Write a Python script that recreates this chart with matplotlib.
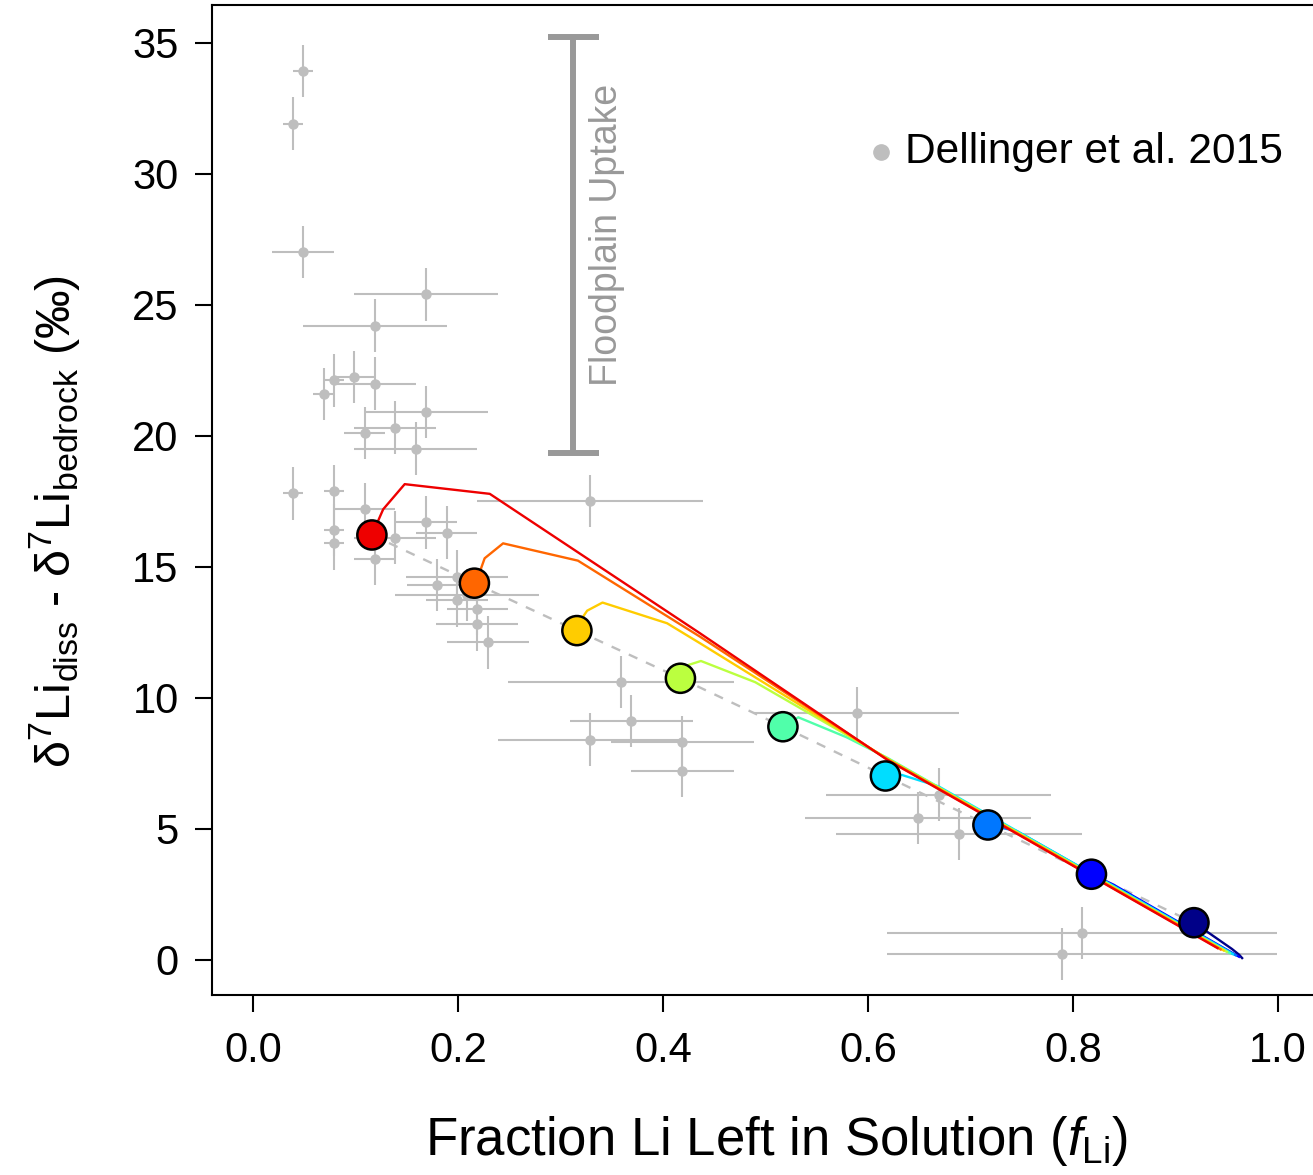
import numpy as np
import matplotlib
matplotlib.use("Agg")
import matplotlib.pyplot as plt

plt.rcParams['font.family'] = ['Liberation Sans', 'DejaVu Sans']
plt.rcParams['mathtext.fontset'] = 'custom'
plt.rcParams['mathtext.rm'] = 'Liberation Sans'
plt.rcParams['mathtext.it'] = 'Liberation Sans:italic'
plt.rcParams['mathtext.default'] = 'regular'

# Dellinger et al. 2015 observations
obs_f = [0.049, 0.039, 0.049, 0.169, 0.119, 0.099, 0.079, 0.119, 0.069, 0.169,
         0.139, 0.109, 0.159, 0.039, 0.079, 0.109, 0.169, 0.189, 0.139, 0.079,
         0.079, 0.119, 0.329, 0.180, 0.199, 0.199, 0.209, 0.219, 0.219, 0.229,
         0.359, 0.369, 0.329, 0.419, 0.419, 0.589, 0.669, 0.649, 0.689, 0.809,
         0.789]
obs_d7 = [33.92, 31.92, 27.02, 25.40, 24.21, 22.26, 22.12, 22.00, 21.61, 20.92,
          20.32, 20.11, 19.52, 17.81, 17.91, 17.21, 16.70, 16.31, 16.12, 16.41,
          15.90, 15.32, 17.51, 14.31, 14.63, 13.72, 13.93, 13.40, 12.81, 12.12,
          10.61, 9.11, 8.41, 8.31, 7.20, 9.41, 6.31, 5.41, 4.81, 1.02,
          0.22]
obs_ferr_lo = [0.01, 0.01, 0.03, 0.07, 0.07, 0.02, 0.01, 0.04, 0.01, 0.06,
               0.04, 0.02, 0.06, 0.01, 0.01, 0.03, 0.03, 0.03, 0.04, 0.01,
               0.01, 0.02, 0.11, 0.03, 0.05, 0.03, 0.07, 0.03, 0.04, 0.04,
               0.11, 0.06, 0.09, 0.07, 0.05, 0.10, 0.11, 0.11, 0.12, 0.19,
               0.17]
obs_ferr_hi = obs_ferr_lo[:-1] + [0.21]
obs_d7err = [1.0] * len(obs_f)

# model start points (one per colour) and their trajectories
start_f = [0.116, 0.216, 0.316, 0.417, 0.517, 0.617, 0.717, 0.818, 0.918]
start_d7 = [16.22, 14.38, 12.57, 10.75, 8.90, 7.02, 5.15, 3.27, 1.42]
colors = ['#EE0000', '#FF6600', '#FFCC00', '#BBFF3F', '#50FFAA',
          '#00DDFF', '#0077FF', '#0000FF', '#000088']

red_x = [0.116, 0.127, 0.148, 0.231, 0.436, 0.619, 0.941]
red_y = [16.22, 17.20, 18.16, 17.79, 12.47, 7.63, 0.45]
orange_x = [0.216, 0.222, 0.226, 0.244, 0.317, 0.436, 0.619, 0.944]
orange_y = [14.38, 14.89, 15.33, 15.90, 15.24, 12.34, 7.65, 0.40]
gold_x = [0.316, 0.322, 0.326, 0.341, 0.404, 0.436, 0.619, 0.947]
gold_y = [12.57, 13.10, 13.33, 13.64, 12.85, 12.09, 7.67, 0.36]
yg_x = [0.417, 0.425, 0.437, 0.490, 0.619, 0.950]
yg_y = [10.75, 11.26, 11.41, 10.60, 7.69, 0.31]
aq_x = [0.517, 0.532, 0.579, 0.619, 0.953]
aq_y = [8.90, 9.26, 8.50, 7.71, 0.26]
cyan_x = [0.617, 0.633, 0.669, 0.956]
cyan_y = [7.02, 7.06, 6.62, 0.22]
dodger_x = [0.717, 0.745, 0.959]
dodger_y = [5.15, 4.92, 0.17]
blue_x = [0.818, 0.840, 0.962]
blue_y = [3.27, 2.86, 0.12]
navy_x = [0.918, 0.934, 0.955, 0.962, 0.965]
navy_y = [1.42, 0.99, 0.42, 0.20, 0.07]

paths = [(red_x, red_y), (orange_x, orange_y), (gold_x, gold_y), (yg_x, yg_y),
         (aq_x, aq_y), (cyan_x, cyan_y), (dodger_x, dodger_y),
         (blue_x, blue_y), (navy_x, navy_y)]

# floodplain uptake bar
flood_f = 0.3125
flood_lo, flood_hi = 19.35, 35.23

W, H = 1313, 1175
fig = plt.figure(figsize=(W / 100, H / 100), dpi=100)
ax = fig.add_axes([212 / W, 1 - 995 / H, (1319 - 212) / W, (995 - 5) / H])

gray = '#BEBEBE'
ax.errorbar(obs_f, obs_d7, xerr=[obs_ferr_lo, obs_ferr_hi], yerr=obs_d7err,
            fmt='o', color=gray, ms=6.5, elinewidth=1.5, capsize=0, zorder=1)

ax.plot(start_f, start_d7, color=gray, lw=1.7, ls=(0, (4, 4)), zorder=2)

for (px, py), c in list(zip(paths, colors))[::-1]:
    ax.plot(px, py, color=c, lw=1.7, zorder=3, solid_joinstyle='round')

ax.scatter(start_f, start_d7, s=21 ** 2, c=colors, edgecolors='black',
           linewidths=1.8, zorder=4)

# floodplain bar
bar_col = '#999999'
ax.plot([flood_f, flood_f], [flood_lo, flood_hi], color=bar_col, lw=4.3,
        solid_capstyle='butt', zorder=2)
ax.hlines([flood_lo, flood_hi], flood_f - 0.025, flood_f + 0.025,
          color=bar_col, lw=4.3, zorder=2)
ax.text(0.345, 27.67, 'Floodplain Uptake', rotation=90, color=bar_col,
        fontsize=27, ha='center', va='center')

# legend
ax.plot([0.613], [30.83], 'o', color=gray, ms=11)
ax.text(0.636, 30.83, 'Dellinger et al. 2015', fontsize=30.6, va='center',
        ha='left')

ax.set_xlim(-0.04, 1.04)
ax.set_ylim(-1.34, 36.45)
ax.set_xticks(np.arange(0, 1.01, 0.2))
ax.set_xticklabels(['0.0', '0.2', '0.4', '0.6', '0.8', '1.0'])
ax.set_yticks(np.arange(0, 36, 5))
ax.tick_params(direction='out', length=12, width=1.5, labelsize=30, pad=12)
ax.tick_params(axis='x', pad=14)
for s in ax.spines.values():
    s.set_linewidth(1.5)

fig.text(777 / W, 1 - 1155 / H, 'Fraction Li Left in Solution ($\\mathit{f}_{Li}$)',
         fontsize=38, ha='center', va='baseline')
fig.text(55 / W, 1 - 522 / H,
         'δ$^7$Li$_{diss}$ - δ$^7$Li$_{bedrock}$ (‰)',
         fontsize=35, rotation=90, ha='center', va='center')

fig.savefig('out.png', dpi=100)
